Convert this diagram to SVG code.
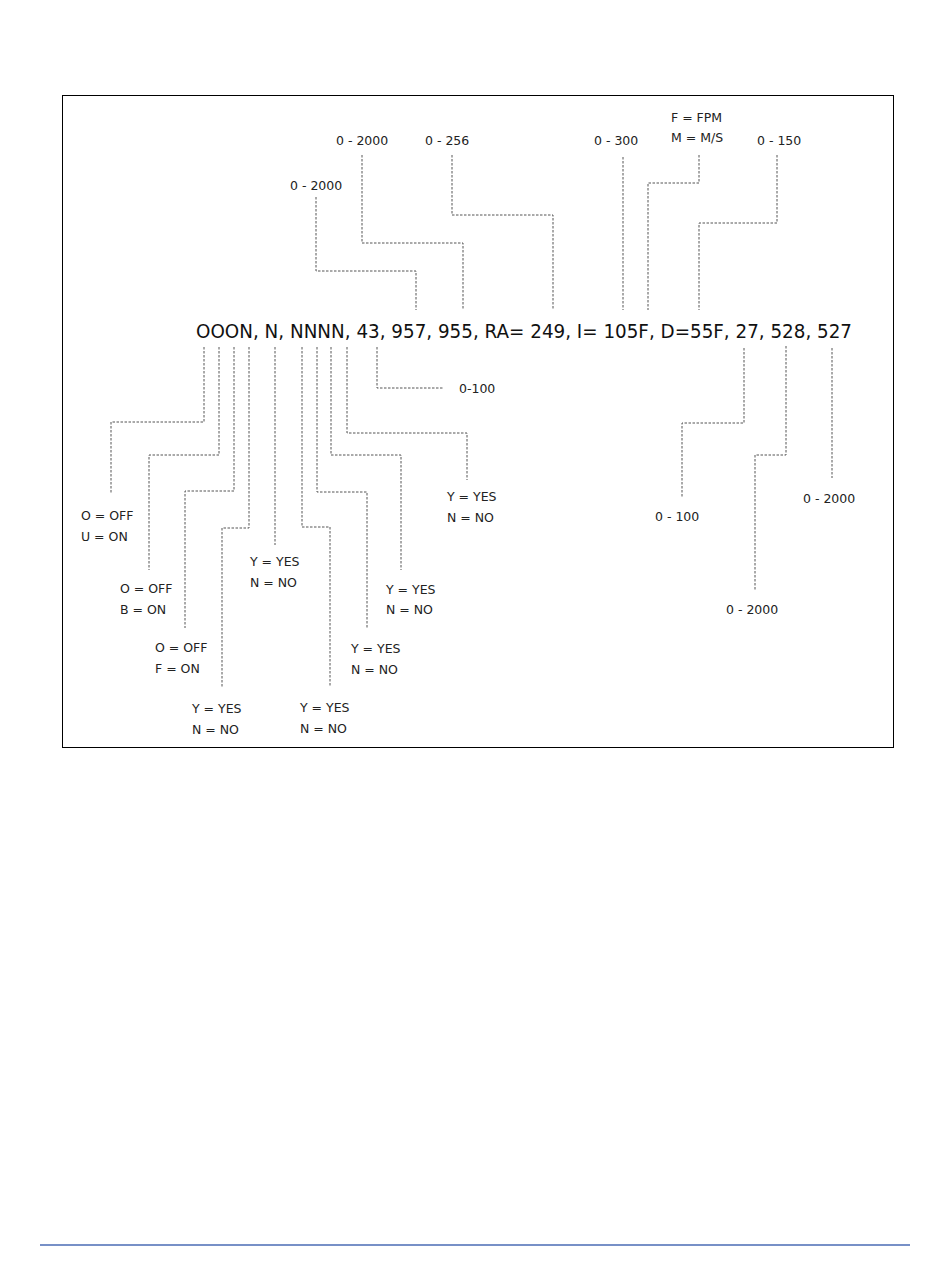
<svg xmlns="http://www.w3.org/2000/svg" width="950" height="1284" viewBox="0 0 950 1284">
<style>
.c{fill:none;stroke:#555;stroke-width:1;stroke-dasharray:2.5,1.5}
.l{font-family:"DejaVu Sans",sans-serif;font-size:12.5px;fill:#222}
.m{font-family:"DejaVu Sans",sans-serif;font-size:19px;fill:#111}
</style>
<rect width="950" height="1284" fill="#fff"/>
<rect id="frame" x="62.5" y="95.5" width="831" height="652" fill="none" stroke="#000" stroke-width="1"/>
<line id="footer" x1="40" y1="1245" x2="910" y2="1245" stroke="#4a6bb5" stroke-width="1.5"/>
<g id="main"><text class="m" x="196" y="338" textLength="656" lengthAdjust="spacingAndGlyphs">OOON, N, NNNN, 43, 957, 955, RA= 249, I= 105F, D=55F, 27, 528, 527</text></g>
<g id="connectors">
<polyline class="c" points="316,197 316,271 416,271 416,310"/>
<polyline class="c" points="362,155 362,243 463,243 463,310"/>
<polyline class="c" points="452,155 452,215 553,215 553,310"/>
<polyline class="c" points="623,157 623,310"/>
<polyline class="c" points="699,155 699,183 648,183 648,310"/>
<polyline class="c" points="777,155 777,223 699,223 699,310"/>
<polyline class="c" points="204,347 204,422 111,422 111,493"/>
<polyline class="c" points="219,347 219,455 149,455 149,570"/>
<polyline class="c" points="234,347 234,491 185,491 185,628"/>
<polyline class="c" points="249,347 249,528 222,528 222,688"/>
<polyline class="c" points="275,347 275,545"/>
<polyline class="c" points="302,347 302,527 330,527 330,687"/>
<polyline class="c" points="317,347 317,492 367,492 367,629"/>
<polyline class="c" points="331,347 331,455 401,455 401,570"/>
<polyline class="c" points="347,347 347,433 467,433 467,480"/>
<polyline class="c" points="377,347 377,388 443,388"/>
<polyline class="c" points="744,348 744,423 682,423 682,497"/>
<polyline class="c" points="786,346 786,455 755,455 755,590"/>
<polyline class="c" points="832,348 832,478"/>
</g>
<g id="top-labels">
<g id="t1"><text class="l" x="336" y="145">0 - 2000</text></g>
<g id="t2"><text class="l" x="425" y="145">0 - 256</text></g>
<g id="t3"><text class="l" x="594" y="145">0 - 300</text></g>
<g id="t4"><text class="l" x="671" y="122">F = FPM</text><text class="l" x="671" y="142">M = M/S</text></g>
<g id="t5"><text class="l" x="757" y="145">0 - 150</text></g>
<g id="t6"><text class="l" x="290" y="190">0 - 2000</text></g>
</g>
<g id="bottom-labels">
<g id="b1"><text class="l" x="81" y="520">O = OFF</text><text class="l" x="81" y="541">U = ON</text></g>
<g id="b2"><text class="l" x="120" y="593">O = OFF</text><text class="l" x="120" y="614">B = ON</text></g>
<g id="b3"><text class="l" x="155" y="652">O = OFF</text><text class="l" x="155" y="673">F = ON</text></g>
<g id="b4"><text class="l" x="192" y="713">Y = YES</text><text class="l" x="192" y="734">N = NO</text></g>
<g id="b5"><text class="l" x="250" y="566">Y = YES</text><text class="l" x="250" y="587">N = NO</text></g>
<g id="b6"><text class="l" x="300" y="712">Y = YES</text><text class="l" x="300" y="733">N = NO</text></g>
<g id="b7"><text class="l" x="351" y="653">Y = YES</text><text class="l" x="351" y="674">N = NO</text></g>
<g id="b8"><text class="l" x="386" y="594">Y = YES</text><text class="l" x="386" y="614">N = NO</text></g>
<g id="b9"><text class="l" x="447" y="501">Y = YES</text><text class="l" x="447" y="522">N = NO</text></g>
<g id="b10"><text class="l" x="459" y="393">0-100</text></g>
<g id="b11"><text class="l" x="655" y="521">0 - 100</text></g>
<g id="b12"><text class="l" x="726" y="614">0 - 2000</text></g>
<g id="b13"><text class="l" x="803" y="503">0 - 2000</text></g>
</g>
</svg>
